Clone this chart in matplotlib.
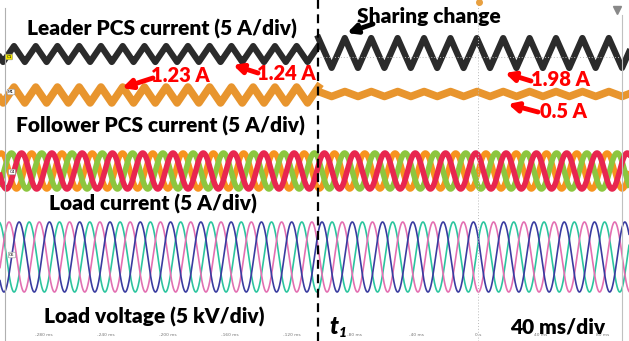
import numpy as np
import matplotlib.pyplot as plt

# time window of the scope capture (ms); t1 is where the current sharing changes
t_start, t_1, t_end = -308, -103, 97
tick_ms = [-280, -240, -200, -160, -120, -80, -40, 0, 40, 80]
tick_labels = ['-280 ms', '-240 ms', '-200 ms', '-160 ms', '-120 ms',
               '-80 ms', '-40 ms', '0 s', '40 ms', '80 ms']

# PCS current ripple before / after t1 (screen units, ms)
leader_level = [54, 53]
leader_ripple = [8, 15]
leader_period = [14.0, 17.0]
follower_level = [95, 94]
follower_ripple = [8, 2.5]
follower_period = [14.0, 17.0]

# three-phase load waveforms
phase_deg = [0, 120, 240]
load_period = 19.5
current_level, current_amp = 171, 18
voltage_level, voltage_amp = 257, 35
current_colors = ['#F7931E', '#8CC63F', '#E8264F']
voltage_colors = ['#2CC59E', '#E36FB1', '#3A3CA0']

W, H = 629, 341


def P(x, y):
    # screen pixel -> data coords
    return t_start + x * (t_end - t_start) / W, y


def tri(t, period):
    return 2 / np.pi * np.arcsin(np.sin(2 * np.pi * t / period))


fig = plt.figure(figsize=(W / 100, H / 100), dpi=100)
ax = fig.add_axes([0, 0, 1, 1])
ax.set_xlim(t_start, t_end)
ax.set_ylim(H, 0)

segments = [np.linspace(t_start, t_1, 3000), np.linspace(t_1, t_end, 3000)]

# leader and follower PCS currents
for i, t in enumerate(segments):
    y = leader_level[i] - leader_ripple[i] * tri(t - t_1 + leader_period[i] / 4, leader_period[i])
    ax.plot(t, y, color='#2b2b2b', lw=4.5)
    y = follower_level[i] - follower_ripple[i] * tri(t - t_1 + follower_period[i] / 4, follower_period[i])
    ax.plot(t, y, color='#E8952E', lw=5.5)

# load current and voltage
t = np.linspace(t_start, t_end, 6000)
for ph, c in zip(phase_deg, current_colors):
    y = current_level - current_amp * np.sin(2 * np.pi * t / load_period - np.radians(ph))
    ax.plot(t, y, color=c, lw=4)
for ph, c in zip(phase_deg, voltage_colors):
    y = voltage_level - voltage_amp * np.sin(2 * np.pi * t / load_period - np.radians(ph) + 0.5)
    ax.plot(t, y, color=c, lw=1.2)

# scope screen details
ax.plot(*zip(P(5, 8), P(5, H)), color='#b0b0b0', lw=0.8)
ax.plot(*zip(P(622, 15), P(622, H)), color='#c0c0c0', lw=0.8)
ax.plot(*zip(P(320, 57), P(620, 57)), color='#bbbbbb', lw=0.7, ls=(0, (1, 2)))
ax.axvline(0, color='#bbbbbb', lw=0.7, ls=(0, (1, 2)))
ax.axvline(t_1, color='k', lw=1.6, ls=(0, (4, 2.5)))
ax.plot(*P(617, 10), marker='v', color='#888888', ms=6)
ax.plot(*P(479, 2), marker='o', color='#E8A040', ms=4)

for txt, (x, y), fc in [('C1', (9, 57), '#F2E600'), ('M1', (11, 92), 'white'),
                        ('C4', (12, 172), 'white'), ('C6', (12, 255), 'white')]:
    ax.text(*P(x, y), txt, fontsize=3, ha='center', va='center',
            bbox=dict(boxstyle='round,pad=0.2', fc=fc, ec='#888888', lw=0.4))

ax.set_xticks(tick_ms)
ax.set_xticklabels(tick_labels)
ax.tick_params(axis='x', length=0, pad=-6, labelsize=3.2, labelcolor='#777777')
ax.set_yticks([])
for s in ax.spines.values():
    s.set_visible(False)

# labels
bold = dict(family='Lato', fontweight='heavy', ha='center', va='center')
ax.text(*P(162, 29), 'Leader PCS current (5 A/div)', fontsize=15, color='black', **bold)
ax.text(*P(160, 126), 'Follower PCS current (5 A/div)', fontsize=15, color='black', **bold)
ax.text(*P(153, 204), 'Load current (5 A/div)', fontsize=15, color='black', **bold)
ax.text(*P(154, 317), 'Load voltage (5 kV/div)', fontsize=15, color='black', **bold)
ax.text(*P(429, 16), 'Sharing change', fontsize=15, color='black', **bold)
ax.text(*P(558, 327), '40 ms/div', fontsize=15, color='black', **bold)
ax.text(*P(334, 327), 't', fontsize=17, style='italic', color='black', **bold)
ax.text(*P(343, 333), '1', fontsize=10, style='italic', color='black', **bold)

red = '#FF0000'
for txt, (x, y) in [('1.23 A', (180, 76)), ('1.24 A', (286, 74)),
                    ('1.98 A', (560, 80)), ('0.5 A', (563, 111))]:
    ax.text(*P(x, y), txt, fontsize=14.5, color=red, **bold)

for head, tail, c in [((122, 88), (153, 78), red), ((233, 65), (258, 73), red),
                      ((505, 73), (531, 81), red), ((508, 104), (538, 112), red),
                      ((347, 33), (373, 24), 'black')]:
    ax.annotate('', xy=P(*head), xytext=P(*tail),
                arrowprops=dict(arrowstyle='-|>', color=c, lw=3.5, mutation_scale=14,
                                shrinkA=0, shrinkB=0))

fig.savefig('out.png', dpi=100)
